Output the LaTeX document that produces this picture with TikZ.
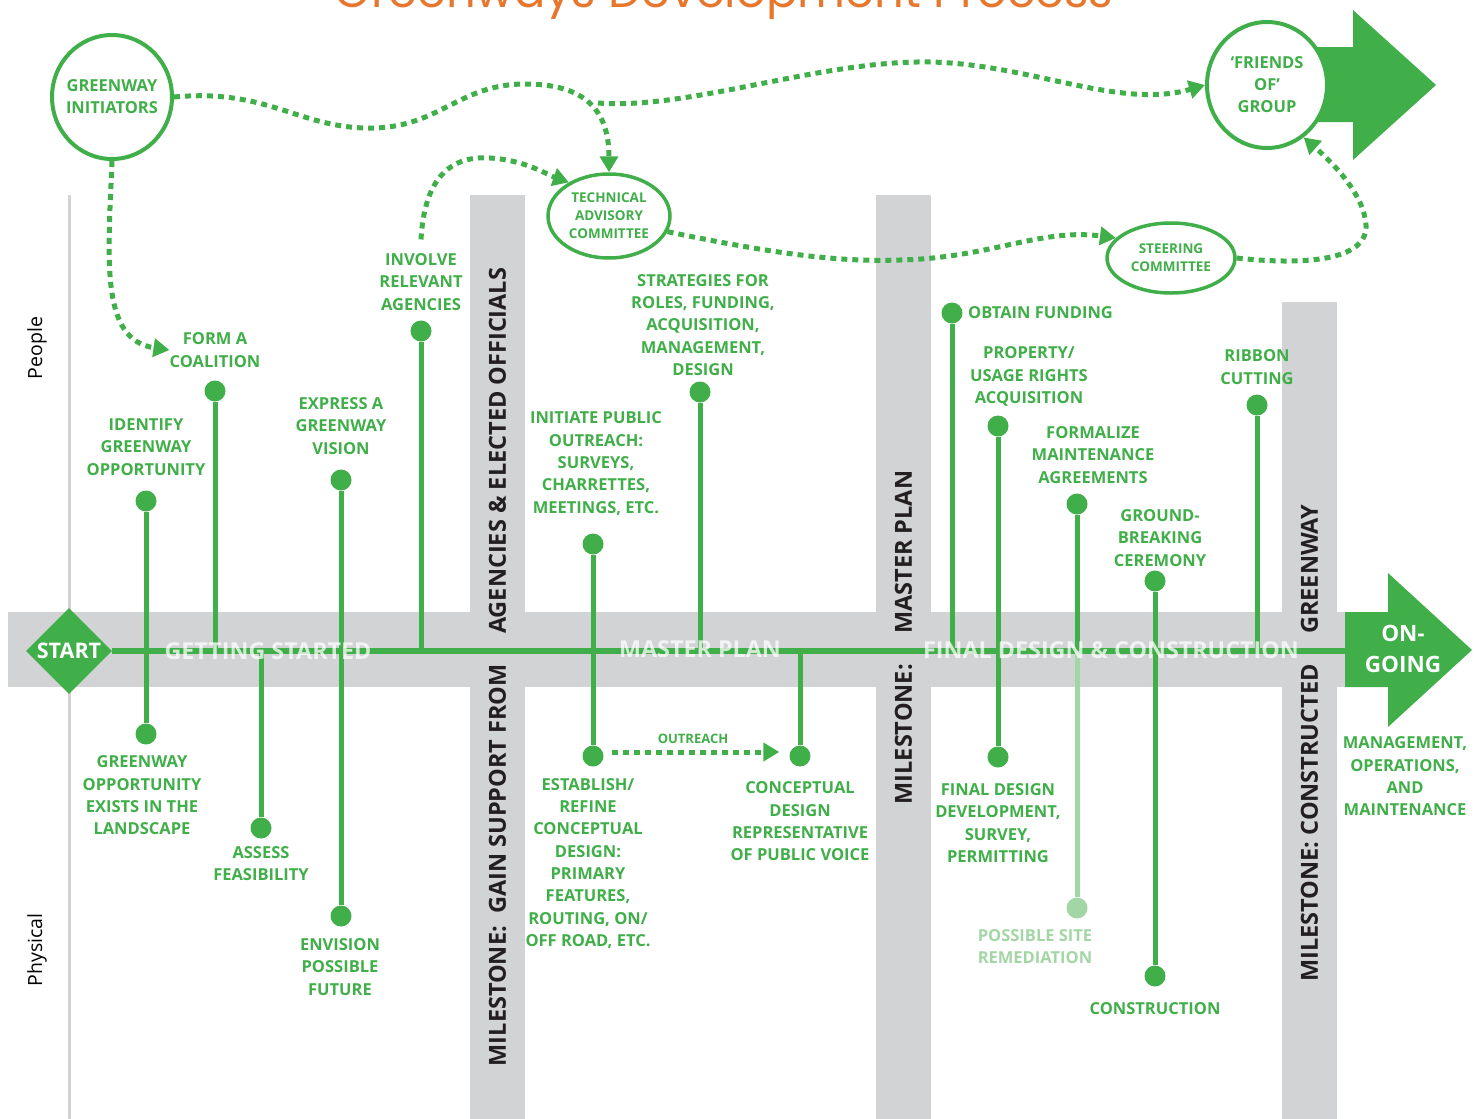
\documentclass[tikz,border=0pt]{standalone}
\usepackage{fontspec}
\setmainfont{Open Sans}
\newfontfamily\titlefont{Poppins}
\usetikzlibrary{shapes,arrows.meta,positioning}

\definecolor{grn}{RGB}{64,174,73}
\definecolor{ltgrn}{RGB}{163,214,165}
\definecolor{bandgray}{RGB}{209,211,212}
\definecolor{ttlorange}{RGB}{232,119,46}
\definecolor{mstext}{RGB}{35,31,32}

\tikzset{
  dot/.style={circle, fill=grn, minimum size=21pt, inner sep=0pt},
  ltdot/.style={dot, fill=ltgrn},
  stem/.style={grn, line width=5pt},
  lbl/.style={text=grn, font=\bfseries\fontsize{16.5}{22.3}\selectfont, align=center, inner sep=0pt},
  mstxt/.style={rotate=90, text=mstext, font=\bfseries\fontsize{23.5}{23.5}\selectfont, inner sep=0pt},
  bandtxt/.style={text=white, text opacity=0.75, font=\bfseries\fontsize{23.3}{23.3}\selectfont, inner sep=0pt},
  bubble/.style={ellipse, draw=grn, line width=4pt, fill=white, inner sep=0pt},
  bubtxt/.style={text=grn, align=center, inner sep=0pt},
  flow/.style={->, grn, line width=5pt, dash pattern=on 6pt off 5pt},
  sidetxt/.style={rotate=90, font=\fontsize{19.5}{19.5}\selectfont, inner sep=0pt}
}

\begin{document}
\begin{tikzpicture}[x=1pt, y=-1pt, >={Triangle[length=16pt,width=18pt]}]

  % Area
  \useasboundingbox (0,0) rectangle (1484,1119);

  % Titulo (cortado em cima)
  \node[anchor=base, text=ttlorange, font=\titlefont\fontsize{46.5}{46.5}\selectfont] (title) at (724,7) {Greenways Development Process};

  % Faixas cinzentas
  \fill[bandgray] (470,195) rectangle (525,1119);
  \fill[bandgray] (876,195) rectangle (931,1119);
  \fill[bandgray] (1282,302) rectangle (1337,1119);
  \fill[bandgray] (8,612) rectangle (1345,687);
  \draw[bandgray, line width=3pt] (69,195) -- (69,1119);

  % Marcos
  \node[mstxt, anchor=west] (msagencies) at (497.5,634) {AGENCIES \& ELECTED OFFICIALS};
  \node[mstxt, anchor=east] (mssupport) at (497.5,664) {MILESTONE:\ \ GAIN SUPPORT FROM};
  \node[mstxt, anchor=west] (msplan) at (903.5,634) {MASTER PLAN};
  \node[mstxt, anchor=east] (msmaster) at (903.5,664) {MILESTONE:};
  \node[mstxt, anchor=west] (msgreenway) at (1309.5,634) {GREENWAY};
  \node[mstxt, anchor=east] (msbuilt) at (1309.5,664) {MILESTONE: CONSTRUCTED};

  % People / Physical
  \node[sidetxt] (people) at (37,348) {People};
  \node[sidetxt] (physical) at (37,950) {Physical};

  % Start e linha principal
  \node[diamond, fill=grn, minimum width=86pt, minimum height=86pt, inner sep=0pt,
        text=white, font=\bfseries\fontsize{21.5}{21.5}\selectfont] (start) at (69,651) {START};
  \coordinate (ongo) at (1346,651);
  \draw[grn, line width=6pt] (start) -- (ongo);

  % Seta ON-GOING
  \fill[grn] (1345,612) -- (1388,612) -- (1388,573) -- (1472,650) -- (1388,727) -- (1388,687) -- (1345,687) -- cycle;
  \node[align=center, text=white, inner sep=0pt, font=\bfseries\fontsize{22.5}{31}\selectfont] (ongoing) at (1403,649) {ON-\\GOING};

  % Pontos
  \node[dot] (identify) at (146,501) {};
  \node[dot] (exists) at (146,734) {};
  \node[dot] (coalition) at (215,391) {};
  \node[dot] (express) at (341,480) {};
  \node[dot] (envision) at (341,916) {};
  \node[dot] (involve) at (421,331) {};
  \node[dot] (assess) at (261,828) {};
  \node[dot] (initiate) at (593,544) {};
  \node[dot] (establish) at (593,756) {};
  \node[dot] (strategies) at (700,392) {};
  \node[dot] (conceptual) at (800,756) {};
  \node[dot] (funding) at (952,313) {};
  \node[dot] (property) at (998,426) {};
  \node[dot] (finaldesign) at (998,757) {};
  \node[dot] (formalize) at (1077,504) {};
  \node[ltdot] (remediation) at (1077,908) {};
  \node[dot] (groundbreak) at (1155,581) {};
  \node[dot] (construction) at (1155,976) {};
  \node[dot] (ribbon) at (1257,405) {};

  % Hastes
  \draw[stem] (identify) -- (exists);
  \draw[stem] (coalition) -- (coalition |- start);
  \draw[stem] (express) -- (envision);
  \draw[stem] (involve) -- (involve |- start);
  \draw[stem] (assess) -- (assess |- start);
  \draw[stem] (initiate) -- (establish);
  \draw[stem] (strategies) -- (strategies |- start);
  \draw[stem] (conceptual) -- (conceptual |- start);
  \draw[stem] (funding) -- (funding |- start);
  \draw[stem] (property) -- (finaldesign);
  \draw[stem] (formalize) -- (formalize |- start);
  \draw[stem, ltgrn] (remediation) -- (formalize |- start);
  \draw[stem] (groundbreak) -- (construction);
  \draw[stem] (ribbon) -- (ribbon |- start);

  % Textos
  \node[lbl] (identifylbl) at (146,447) {IDENTIFY\\GREENWAY\\OPPORTUNITY};
  \node[lbl] (coalitionlbl) at (215,350) {FORM A\\COALITION};
  \node[lbl] (expresslbl) at (341,426) {EXPRESS A\\GREENWAY\\VISION};
  \node[lbl] (involvelbl) at (421,282) {INVOLVE\\RELEVANT\\AGENCIES};
  \node[lbl] (existslbl) at (142,795.5) {GREENWAY\\OPPORTUNITY\\EXISTS IN THE\\LANDSCAPE};
  \node[lbl] (assesslbl) at (261,863.5) {ASSESS\\FEASIBILITY};
  \node[lbl] (envisionlbl) at (340,967) {ENVISION\\POSSIBLE\\FUTURE};
  \node[lbl] (initiatelbl) at (596,463.5) {INITIATE PUBLIC\\OUTREACH:\\SURVEYS,\\CHARRETTES,\\MEETINGS, ETC.};
  \node[lbl] (establishlbl) at (588,863.5) {ESTABLISH/\\REFINE\\CONCEPTUAL\\DESIGN:\\PRIMARY\\FEATURES,\\ROUTING, ON/\\OFF ROAD, ETC.};
  \node[lbl] (strategieslbl) at (703,325) {STRATEGIES FOR\\ROLES, FUNDING,\\ACQUISITION,\\MANAGEMENT,\\DESIGN};
  \node[lbl] (conceptuallbl) at (800,821.5) {CONCEPTUAL\\DESIGN\\REPRESENTATIVE\\OF PUBLIC VOICE};
  \node[lbl, anchor=west] (fundinglbl) at (968,313) {OBTAIN FUNDING};
  \node[lbl] (propertylbl) at (1029,376.5) {PROPERTY/\\USAGE RIGHTS\\ACQUISITION};
  \node[lbl] (finaldesignlbl) at (998,823) {FINAL DESIGN\\DEVELOPMENT,\\SURVEY,\\PERMITTING};
  \node[lbl] (formalizelbl) at (1093,455) {FORMALIZE\\MAINTENANCE\\AGREEMENTS};
  \node[lbl, text=ltgrn] (remediationlbl) at (1035,946.5) {POSSIBLE SITE\\REMEDIATION};
  \node[lbl] (groundbreaklbl) at (1160,538) {GROUND-\\BREAKING\\CEREMONY};
  \node[lbl] (constructionlbl) at (1155,1009) {CONSTRUCTION};
  \node[lbl] (ribbonlbl) at (1257,367) {RIBBON\\CUTTING};
  \node[lbl] (managementlbl) at (1405,776.5) {MANAGEMENT,\\OPERATIONS,\\AND\\MAINTENANCE};

  % Outreach
  \draw[flow, shorten <=8pt, shorten >=10pt] ([yshift=4pt]establish.east) -- ([yshift=4pt]conceptual.west);
  \node[lbl, font=\bfseries\fontsize{13}{13}\selectfont] (outreach) at (693,739) {OUTREACH};

  % Grande seta e grupos
  \fill[grn] (1267,47) -- (1353,47) -- (1353,10) -- (1436,85) -- (1353,160) -- (1353,122) -- (1267,122) -- cycle;
  \node[bubble, minimum width=120pt, minimum height=124pt] (gi) at (112,97) {};
  \node[bubtxt, font=\bfseries\fontsize{16.5}{22}\selectfont] (gitxt) at (gi) {GREENWAY\\INITIATORS};
  \node[bubble, line width=3.5pt, minimum width=122pt, minimum height=84pt] (tac) at (609,216) {};
  \node[bubtxt, font=\bfseries\fontsize{13.5}{18}\selectfont] (tactxt) at (tac) {TECHNICAL\\ADVISORY\\COMMITTEE};
  \node[bubble, line width=3.5pt, minimum width=128pt, minimum height=70pt] (st) at (1171,258) {};
  \node[bubtxt, font=\bfseries\fontsize{13.5}{18}\selectfont] (sttxt) at (st) {STEERING\\COMMITTEE};
  \node[bubble, minimum width=120pt, minimum height=126pt] (fr) at (1267,85) {};
  \node[bubtxt, font=\bfseries\fontsize{16.5}{22}\selectfont] (frtxt) at (fr) {‘FRIENDS\\OF’\\GROUP};

  % Ligacoes tracejadas
  \coordinate (split) at (598,103);
  \draw[flow] (gi.east) .. controls (270,88) and (300,130) .. (375,128)
    .. controls (440,126) and (460,84) .. (525,84)
    .. controls (585,84) and (609,110) .. (tac.north);
  \draw[flow] (split) .. controls (690,110) and (820,60) .. (930,62)
    .. controls (1030,64) and (1120,110) .. (fr.west);
  \draw[flow] ([yshift=14pt]involvelbl.north) .. controls (424,185) and (445,155) .. (490,158)
    .. controls (525,160) and (548,175) .. (tac.140);
  \draw[flow] (tac.-15) .. controls (780,255) and (840,262) .. (900,260)
    .. controls (990,258) and (1040,228) .. (st.160);
  \draw[flow] (st.east) .. controls (1300,265) and (1368,262) .. (1366,225)
    .. controls (1364,195) and (1335,165) .. (fr.-55);
  \draw[flow] (gi.south) .. controls (108,260) and (100,340) .. (coalitionlbl.west);

  % Faixa: fases
  \node[bandtxt] (gettingstarted) at (268,651) {GETTING STARTED};
  \node[bandtxt] (masterplan) at (700,649) {MASTER PLAN};
  \node[bandtxt] (finalphase) at (1111,650) {FINAL DESIGN \& CONSTRUCTION};

\end{tikzpicture}
\end{document}
